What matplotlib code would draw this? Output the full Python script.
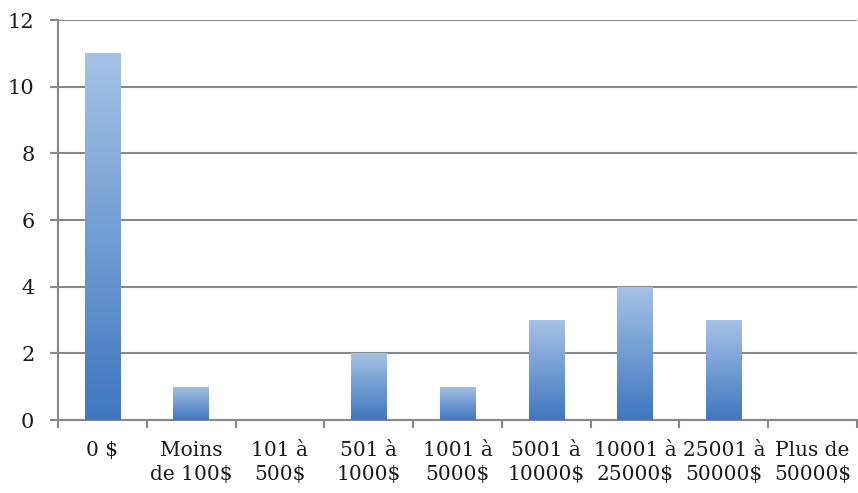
import numpy as np
import matplotlib.pyplot as plt
from matplotlib.colors import LinearSegmentedColormap

categories = ['0 $', 'Moins\nde 100$', '101 à\n500$', '501 à\n1000$', '1001 à\n5000$',
              '5001 à\n10000$', '10001 à\n25000$', '25001 à\n50000$', 'Plus de\n50000$']
counts = [11, 1, 0, 2, 1, 3, 4, 3, 0]
y_ticks = [0, 2, 4, 6, 8, 10, 12]

grid_color = '#878787'
font = 'DejaVu Serif'

fig = plt.figure(figsize=(8.58, 4.93), dpi=100)
ax = fig.add_axes([58 / 858, 73 / 493, 799 / 858, 400 / 493])

x = np.arange(len(categories))
bars = ax.bar(x, counts, width=0.4, color='none', zorder=3)

# vertical gradient fill for each bar
cmap = LinearSegmentedColormap.from_list('bar_grad', ['#3f77bf', '#a6c2e6'])
grad = np.linspace(0, 1, 256).reshape(-1, 1)
for bar in bars:
    h = bar.get_height()
    if h <= 0:
        continue
    x0 = bar.get_x()
    im = ax.imshow(grad, cmap=cmap, origin='lower', aspect='auto',
                   extent=[x0, x0 + bar.get_width(), 0, h], zorder=3)
    im.set_clip_path(bar)

ax.set_xlim(-0.5, len(categories) - 0.5)
ax.set_ylim(0, 12)
ax.set_yticks(y_ticks)
ax.set_yticklabels([str(t) for t in y_ticks], fontfamily=font, fontsize=15,
                   color='#1a1a1a')

ax.set_xticks(np.arange(len(categories) + 1) - 0.5, minor=False)
ax.set_xticklabels([])
ax.set_xticks(x, minor=True)
ax.set_xticklabels(categories, minor=True, fontfamily=font, fontsize=14.5,
                   linespacing=1.35, color='#1a1a1a')
ax.tick_params(axis='x', which='minor', length=0, pad=15)
ax.tick_params(axis='x', which='major', length=6, width=1.5, color=grid_color,
               direction='out')
ax.tick_params(axis='y', length=6, width=1.5, color=grid_color, pad=11)

ax.grid(axis='y', color=grid_color, linewidth=1.5, zorder=0)
for side in ['top', 'right']:
    ax.spines[side].set_visible(False)
for side in ['left', 'bottom']:
    ax.spines[side].set_color(grid_color)
    ax.spines[side].set_linewidth(1.5)

fig.savefig('out.png', dpi=100)
